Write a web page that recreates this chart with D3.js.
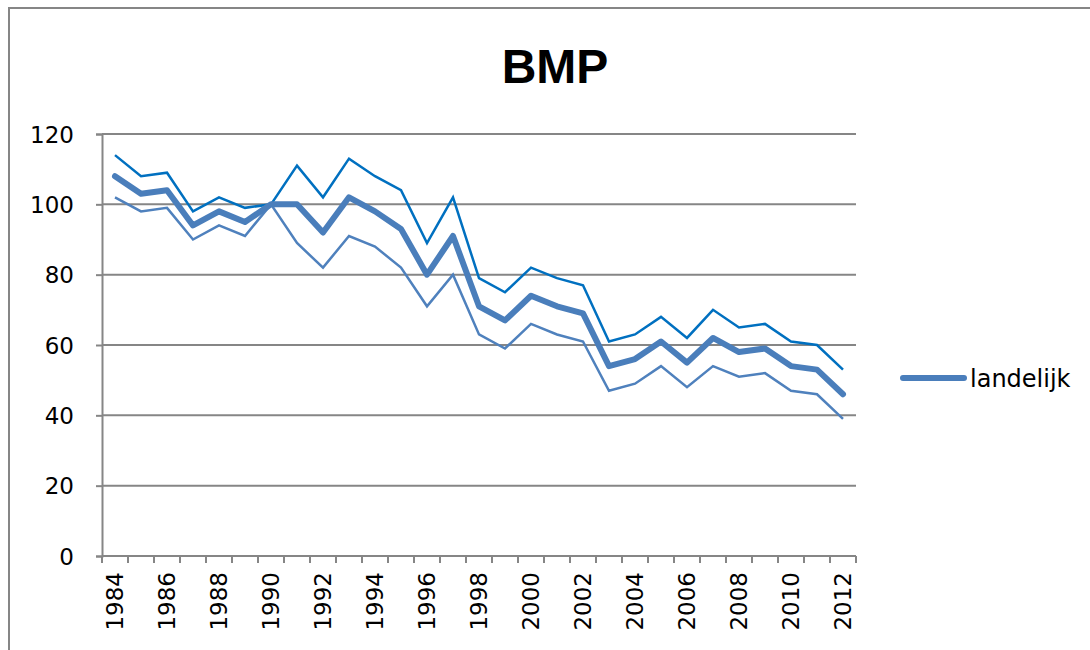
<!DOCTYPE html>
<html><head><meta charset="utf-8">
<script src="https://cdn.jsdelivr.net/npm/d3@7"></script>
<style>body{margin:0;background:#fff;}svg{display:block;font-family:"DejaVu Sans",sans-serif;}</style>
</head><body><svg id="c" width="1090" height="650"></svg>
<script>
const years = d3.range(1984, 2013).map(String);
const landelijk = [108,103,104,94,98,95,100,100,92,102,98,93,80,91,71,67,74,71,69,54,56,61,55,62,58,59,54,53,46];
const upper = [114,108,109,98,102,99,100,111,102,113,108,104,89,102,79,75,82,79,77,61,63,68,62,70,65,66,61,60,53];
const lower = [102,98,99,90,94,91,100,89,82,91,88,82,71,80,63,59,66,63,61,47,49,54,48,54,51,52,47,46,39];
const yTicks = [0,20,40,60,80,100,120];
const xLabels = years.filter((d,i)=>i%2===0);

const svg = d3.select("#c");
const L=102, R=856, T=134, B=556;
const x = d3.scaleBand().domain(years).range([L,R]);
const y = d3.scaleLinear().domain([0,120]).range([B,T]);
const cx = d => x(d)+x.bandwidth()/2;
const grey="#868686";
const tickFont = "DejaVu Sans, sans-serif";

// outer frame
svg.append("path").attr("d","M9,660 L9,8 L1100,8").attr("fill","none").attr("stroke",grey).attr("stroke-width",2);

// title
svg.append("text").attr("x",555).attr("y",83).attr("text-anchor","middle")
  .attr("font-family","Liberation Sans, Arial, sans-serif")
  .attr("font-size",48).attr("font-weight","bold").text("BMP");

// gridlines
svg.append("g").selectAll("line").data(yTicks.filter(d=>d>0)).join("line")
  .attr("x1",L).attr("x2",R).attr("y1",d=>y(d)).attr("y2",d=>y(d))
  .attr("stroke",grey).attr("stroke-width",2);

// y axis
const ya = svg.append("g").attr("transform",`translate(${L},0)`)
  .call(d3.axisLeft(y).tickValues(yTicks).tickSize(6).tickPadding(22));
ya.select(".domain").attr("stroke",grey).attr("stroke-width",2);
ya.selectAll(".tick line").attr("stroke",grey).attr("stroke-width",2);
ya.selectAll("text").attr("font-size",23).attr("fill","#000").attr("font-family",tickFont).attr("dy","0.36em");

// x axis
const xa = svg.append("g").attr("transform",`translate(0,${B})`);
xa.append("line").attr("x1",L).attr("x2",R).attr("stroke",grey).attr("stroke-width",2);
const bounds = years.map(d=>x(d)).concat([x(years[years.length-1])+x.bandwidth()]);
xa.selectAll("line.t").data(bounds).join("line").attr("class","t")
  .attr("x1",d=>d).attr("x2",d=>d).attr("y1",0).attr("y2",7).attr("stroke",grey).attr("stroke-width",2);
xa.selectAll("text").data(xLabels).join("text")
  .attr("transform",d=>`translate(${cx(d)+8},16) rotate(-90)`)
  .attr("text-anchor","end").attr("font-size",23).attr("font-family",tickFont).text(d=>d);

// lines
const line = d3.line().x((d,i)=>cx(years[i])).y(d=>y(d));
svg.append("path").datum(upper).attr("d",line).attr("fill","none").attr("stroke","#0070C0").attr("stroke-width",2.5);
svg.append("path").datum(lower).attr("d",line).attr("fill","none").attr("stroke","#4F81BD").attr("stroke-width",2.5);
svg.append("path").datum(landelijk).attr("d",line).attr("fill","none").attr("stroke","#4A7EBB").attr("stroke-width",6).attr("stroke-linecap","round").attr("stroke-linejoin","round");

// legend
svg.append("line").attr("x1",903).attr("x2",964).attr("y1",378).attr("y2",378)
  .attr("stroke","#4A7EBB").attr("stroke-width",6).attr("stroke-linecap","round");
svg.append("text").attr("x",970).attr("y",387).attr("font-size",24).attr("font-family",tickFont).text("landelijk");
</script></body></html>
